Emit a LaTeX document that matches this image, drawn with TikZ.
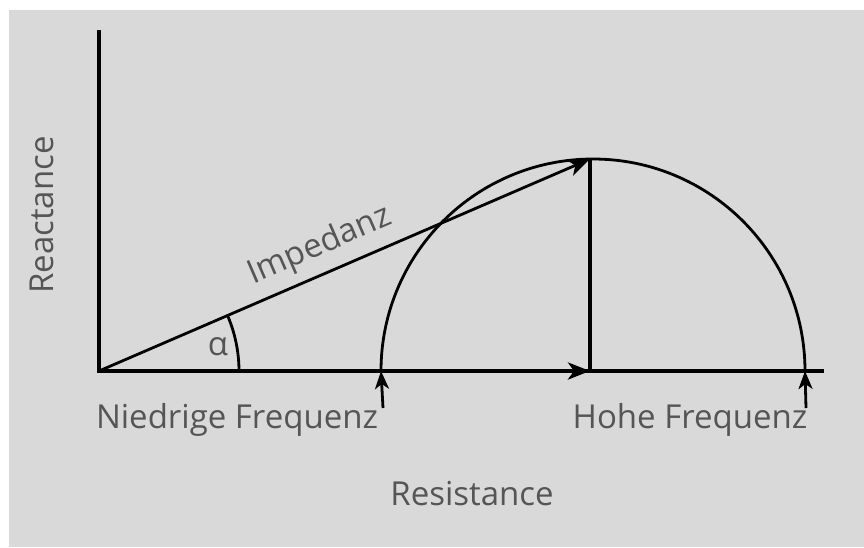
\documentclass[tikz,border=0pt]{standalone}
\usepackage{fontspec}
\setmainfont{Open Sans}
\usetikzlibrary{arrows.meta,calc}
\definecolor{bg}{HTML}{D9D9D9}
\definecolor{txt}{HTML}{555555}
\tikzset{
  lbl/.style={text=txt, font=\fontsize{33}{36}\selectfont, inner sep=0pt},
  axis/.style={line width=4pt},
  thin/.style={line width=2.8pt},
  tip/.style={-{Stealth[length=22pt,width=17pt,inset=6pt]}},
  uptip/.style={-{Stealth[length=18pt,width=14pt,inset=5pt]}},
}
\begin{document}
\begin{tikzpicture}[x=1pt,y=-1pt]
\fill[white] (0,0) rectangle (864,547);
\fill[bg] (9,10) rectangle (864,547);
\useasboundingbox (0,0) rectangle (864,547);
\coordinate (O) at (99,371);
\coordinate (Ytop) at (99,30);
\coordinate (Xend) at (824,371);
\coordinate (P) at (590,159);
\coordinate (Pb) at (590,371);
\coordinate (L) at (381,371);
\coordinate (R) at (805,371);
\coordinate (Lb) at (383,408);
\coordinate (Rb) at (806,408);
% axes
\draw[axis] (Ytop) -- (O) -- (Xend);
\draw[axis, tip] (O) -- (Pb);
% vertical component
\draw[axis] (P) -- (Pb);
% semicircle
\draw[thin] (L) arc[start angle=180, end angle=360, radius=212];
% impedance
\draw[thin, tip] (O) -- (P);
% angle arc
\draw[thin] ($(O)+(140,0)$) arc[start angle=0, end angle=-23.4, radius=140];
% small arrows
\draw[thin, uptip] (Lb) -- (L);
\draw[thin, uptip] (Rb) -- (R);
% labels
\node[lbl, rotate=90] (ylab) at (42,215) {Reactance};
\node[lbl, rotate=23.4] (imp) at (320,246) {Impedanz};
\node[lbl] (alpha) at (218,347) {α};
\node[lbl] (nf) at (237,420) {Niedrige Frequenz};
\node[lbl] (hf) at (690,420) {Hohe Frequenz};
\node[lbl] (res) at (472,494) {Resistance};
\end{tikzpicture}
\end{document}
